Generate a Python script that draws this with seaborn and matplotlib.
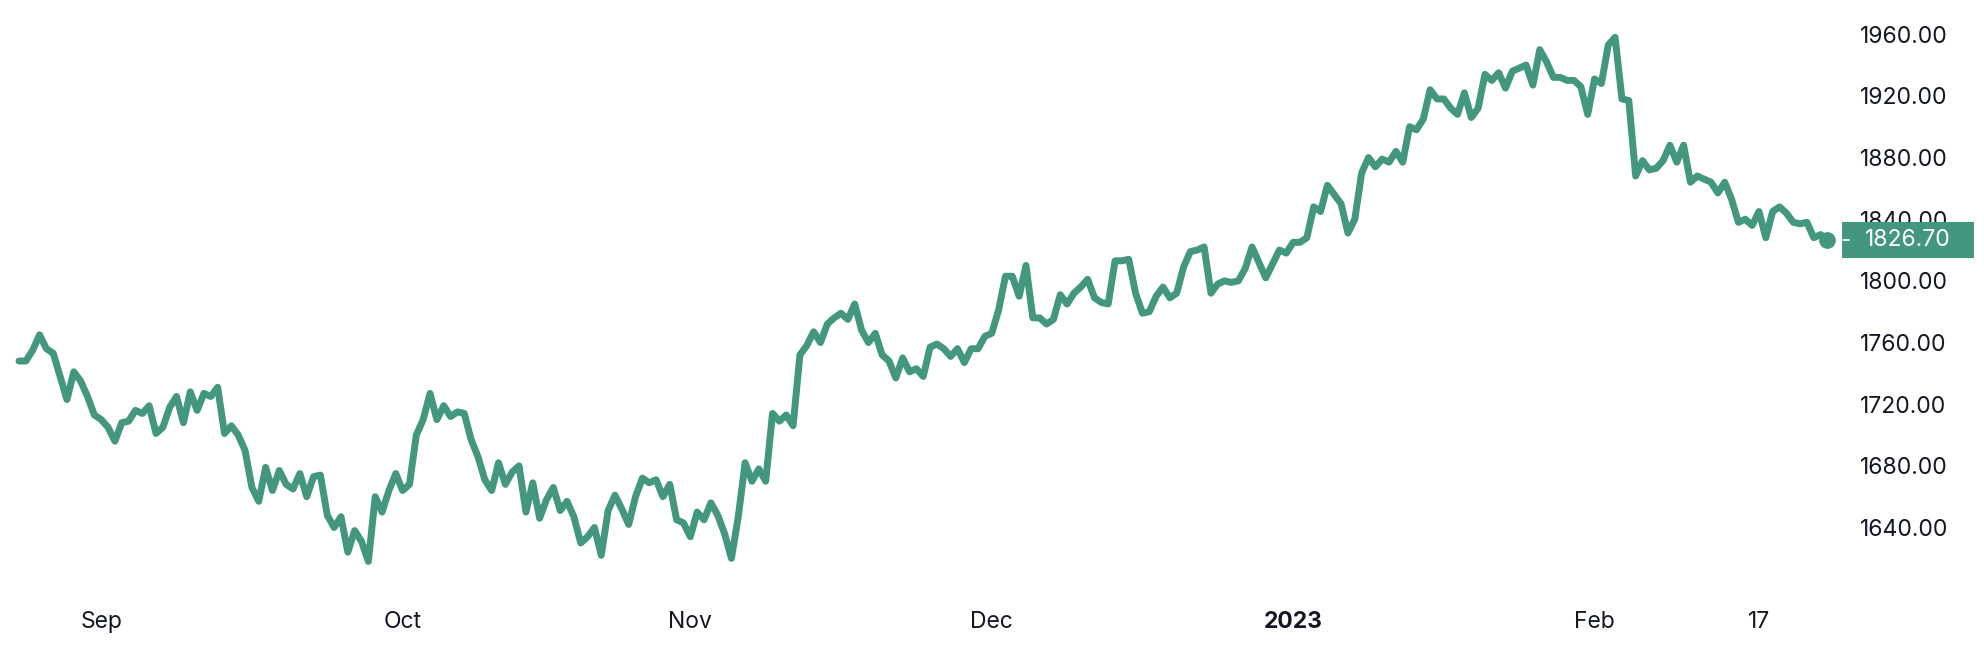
import numpy as np
import pandas as pd
import matplotlib
matplotlib.use("Agg")
import matplotlib.pyplot as plt
import matplotlib.transforms as mtransforms
from matplotlib.patches import Rectangle
from matplotlib.lines import Line2D
import seaborn as sns

## --- gold price, two readings per trading day, starting 24 Aug 2022
start = "2022-08-24"
price = [
    1748, 1748, 1755, 1765, 1756, 1753, 1738, 1723, 1741, 1735,
    1725, 1713, 1710, 1705, 1696, 1708, 1709, 1716, 1714, 1719,
    1701, 1705, 1718, 1725, 1708, 1728, 1716, 1727, 1725, 1731,
    1701, 1706, 1700, 1690, 1666, 1657, 1679, 1664, 1677, 1668,
    1665, 1675, 1660, 1673, 1674, 1648, 1640, 1647, 1624, 1638,
    1631, 1618, 1660, 1650, 1664, 1675, 1664, 1668, 1700, 1710,
    1727, 1710, 1719, 1712, 1715, 1714, 1697, 1686, 1671, 1664,
    1682, 1668, 1676, 1680, 1650, 1669, 1646, 1658, 1666, 1651,
    1657, 1647, 1630, 1634, 1640, 1622, 1651, 1661, 1652, 1642,
    1660, 1672, 1669, 1671, 1660, 1668, 1645, 1643, 1634, 1650,
    1645, 1656, 1648, 1636, 1620, 1647, 1682, 1670, 1678, 1670,
    1714, 1709, 1713, 1706, 1752, 1758, 1767, 1760, 1772, 1776,
    1779, 1775, 1785, 1768, 1760, 1766, 1752, 1748, 1737, 1750,
    1741, 1743, 1738, 1757, 1759, 1756, 1751, 1756, 1747, 1756,
    1756, 1764, 1766, 1781, 1803, 1803, 1790, 1810, 1776, 1776,
    1772, 1775, 1791, 1785, 1792, 1796, 1801, 1789, 1786, 1785,
    1813, 1813, 1814, 1792, 1779, 1780, 1790, 1796, 1789, 1792,
    1809, 1819, 1820, 1822, 1792, 1798, 1800, 1799, 1800, 1808,
    1822, 1812, 1802, 1811, 1820, 1818, 1825, 1825, 1828, 1848,
    1845, 1862, 1856, 1850, 1831, 1840, 1870, 1880, 1874, 1879,
    1877, 1884, 1877, 1900, 1898, 1905, 1924, 1918, 1918, 1912,
    1908, 1922, 1906, 1912, 1934, 1930, 1935, 1925, 1936, 1938,
    1940, 1927, 1950, 1942, 1932, 1932, 1930, 1930, 1926, 1908,
    1931, 1928, 1953, 1958, 1918, 1917, 1868, 1878, 1872, 1873,
    1878, 1888, 1877, 1888, 1864, 1868, 1866, 1864, 1857, 1864,
    1853, 1838, 1840, 1836, 1845, 1828, 1845, 1848, 1844, 1838,
    1837, 1838, 1828, 1830, 1826.7,
]
tick_dates = ["2022-09-01", "2022-10-03", "2022-11-01", "2022-12-01",
              "2023-01-02", "2023-02-01", "2023-02-17"]
tick_labels = ["Sep", "Oct", "Nov", "Dec", "2023", "Feb", "17"]
y_ticks = [1640, 1680, 1720, 1760, 1800, 1840, 1880, 1920, 1960]

line_color = "#44977f"
text_color = "#131722"

## --- trading-day positions (weekends skipped, like the original chart)
days = pd.bdate_range(start, periods=(len(price) + 1) // 2)
df = pd.DataFrame({"pos": np.arange(len(price)) / 2, "price": price})
tick_pos = [days.get_loc(pd.Timestamp(d)) for d in tick_dates]

sns.set_theme(style="white")
plt.rcParams["font.family"] = ["Inter", "DejaVu Sans"]

fig = plt.figure(figsize=(19.84, 6.48), dpi=100)
ax = fig.add_axes([0, 0.0972, 1845 / 1984, 0.9028])

sns.lineplot(data=df, x="pos", y="price", ax=ax, color=line_color,
             linewidth=5, estimator=None, sort=False)
for l in ax.lines:
    l.set_solid_joinstyle("round")
    l.set_solid_capstyle("round")

## --- last price dot
last = df.iloc[-1]
ax.plot(last["pos"], last["price"], "o", color=line_color, ms=11, zorder=4)

ax.set_xlim(-1.387, 133.28)
ax.set_ylim(1602.7, 1982.2)
for s in ax.spines.values():
    s.set_visible(False)

ax.set_xlabel("")
ax.set_ylabel("")
ax.set_xticks(tick_pos)
ax.set_xticklabels(tick_labels)
ax.get_xticklabels()[4].set_fontweight("bold")
ax.tick_params(axis="x", length=0, pad=18.5, labelsize=16.5, labelcolor=text_color)

ax.yaxis.tick_right()
ax.set_yticks(y_ticks)
ax.set_yticklabels([f"{v:.2f}" for v in y_ticks])
ax.tick_params(axis="y", length=0, pad=11, labelsize=16.5, labelcolor=text_color)

## --- current price label on the right scale
trans = mtransforms.blended_transform_factory(ax.transAxes, ax.transData)
box_h = 23.3
ax.add_patch(Rectangle((0.9984, last["price"] - box_h / 2), 0.0715, box_h,
                       transform=trans, facecolor=line_color, edgecolor="none",
                       clip_on=False, zorder=5))
ax.add_line(Line2D([0.9988, 1.0022], [last["price"], last["price"]], transform=trans,
                   color="white", linewidth=1.2, clip_on=False, zorder=6))
ax.text(1.0342, last["price"], f"{last['price']:.2f}", transform=trans,
        ha="center", va="center", color="white", fontsize=16.5, zorder=7)

fig.savefig("out.png", dpi=100, facecolor="white")
